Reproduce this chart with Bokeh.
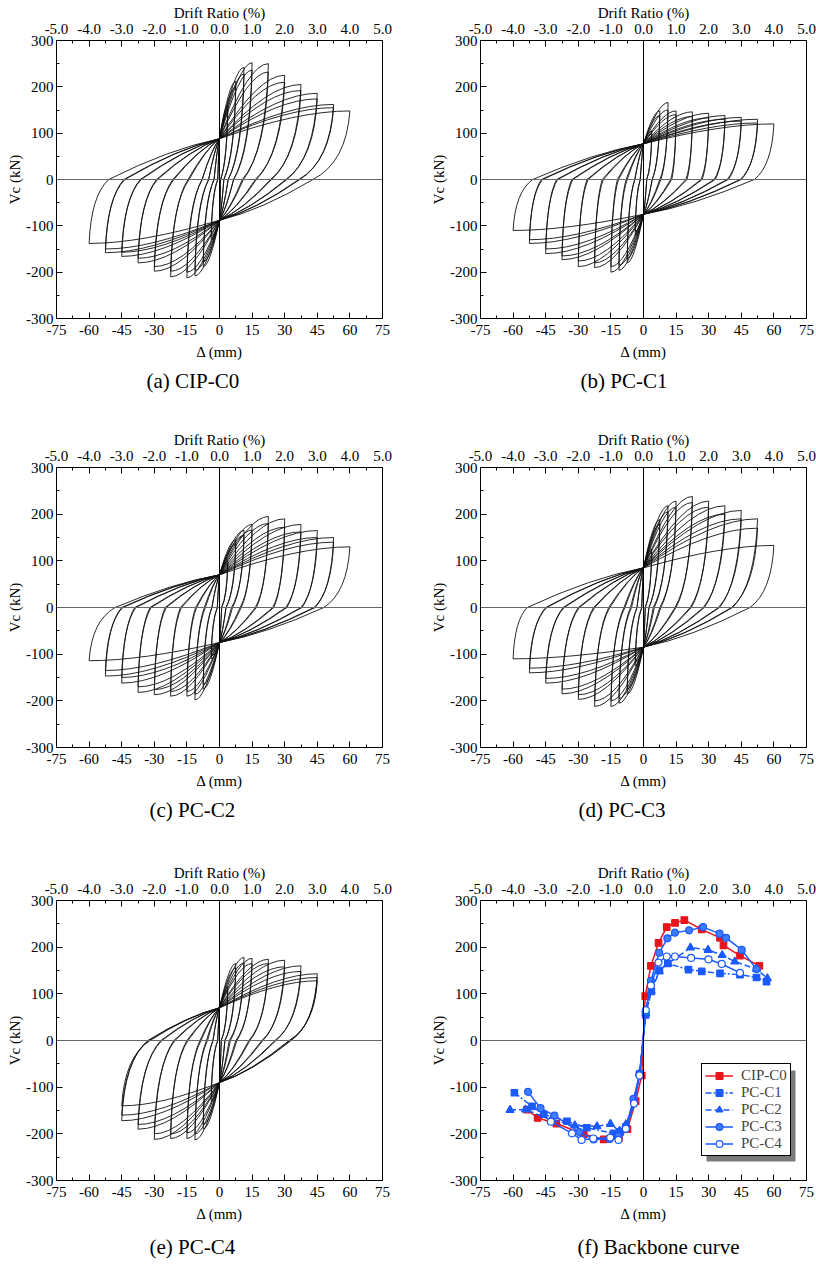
from bokeh.plotting import figure
from bokeh.models import (Range1d, LinearAxis, FixedTicker, NumeralTickFormatter, Span, Title,
                          ColumnDataSource, Legend, LegendItem, BoxAnnotation)
from bokeh.layouts import column, row
from bokeh.embed import file_html
from bokeh.resources import INLINE

FONT = "Liberation Serif"

# ---------------- ticks ----------------
X_TICKS = [-75, -60, -45, -30, -15, 0, 15, 30, 45, 60, 75]
X_MINOR = [-67.5, -52.5, -37.5, -22.5, -7.5, 7.5, 22.5, 37.5, 52.5, 67.5]
Y_TICKS = [-300, -200, -100, 0, 100, 200, 300]
Y_MINOR = [-250, -150, -50, 50, 150, 250]
DRIFT_TICKS = [-5, -4, -3, -2, -1, 0, 1, 2, 3, 4, 5]
DRIFT_MINOR = [-4.5, -3.5, -2.5, -1.5, -0.5, 0.5, 1.5, 2.5, 3.5, 4.5]

# ---------------- hysteresis cycles ----------------
# per cycle: positive peak (DP, FP), zero-force crossing on unloading (ZP),
# negative peak (DN, FN), zero-force crossing (ZN); PIN = force at zero displacement (pinch)
LEV_DP = [3.8, 3.8, 7.5, 7.5, 11.3, 11.3, 15, 15, 22.5, 22.5, 30, 30, 37.5, 37.5, 45, 45, 52.5, 52.5, 60]
LEV_DN = [-3.8, -3.8, -7.5, -7.5, -11.3, -11.3, -15, -15, -22.5, -22.5, -30, -30, -37.5, -37.5, -45, -45, -52.5, -52.5, -60]

A_FP = [160, 150, 212, 200, 242, 228, 252, 236, 250, 232, 225, 210, 205, 192, 186, 174, 162, 155, 148]
A_ZP = [0.5, 0.5, 2, 2, 4, 4, 6.5, 6.5, 11, 10.5, 17, 16.5, 24, 23.5, 31, 30.5, 37, 36.5, 43]
A_FN = [-130, -122, -188, -178, -208, -196, -212, -200, -210, -198, -198, -188, -180, -170, -166, -157, -158, -150, -138]
A_ZN = [-0.8, -0.8, -2.5, -2.5, -5, -5, -8, -8, -14.5, -14, -21.5, -21, -29, -28.5, -36.5, -36, -44, -43.5, -51]
A_PIN = [88, -88]

B_FP = [105, 98, 148, 138, 166, 150, 148, 140, 146, 136, 143, 133, 138, 130, 134, 126, 130, 122, 120]
B_ZP = [1.5, 1.5, 4, 4, 8, 7.5, 13, 12.5, 20, 19.5, 27, 26.5, 33, 32.5, 39, 38.5, 45, 44.5, 51]
B_FN = [-120, -112, -180, -170, -196, -185, -200, -188, -190, -180, -188, -176, -173, -165, -160, -150, -138, -130, -110]
B_ZN = [-1.5, -1.5, -4, -4, -8, -7.5, -12, -11.5, -19, -18.5, -26, -25.5, -33, -32.5, -40, -39.5, -47, -46.5, -51]
B_PIN = [77, -75]

C_FP = [100, 94, 145, 136, 165, 155, 178, 166, 195, 180, 190, 172, 178, 162, 165, 150, 150, 140, 130]
C_ZP = [1, 1, 3, 3, 6, 5.5, 10, 9.5, 17, 16.5, 25, 24.5, 31, 30.5, 38, 37.5, 44, 43.5, 48]
C_FN = [-110, -104, -175, -165, -198, -186, -190, -180, -190, -180, -187, -176, -182, -170, -162, -150, -147, -135, -114]
C_ZN = [-1, -1, -3.5, -3.5, -7, -6.5, -11, -10.5, -18, -17.5, -25, -24.5, -32, -31.5, -39, -38.5, -45, -44.5, -48]
C_PIN = [70, -75]

D_FP = [125, 118, 188, 178, 218, 205, 228, 215, 238, 225, 228, 215, 218, 200, 208, 190, 190, 170, 133]
D_ZP = [0.8, 0.8, 2.5, 2.5, 5, 4.5, 8, 7.5, 15, 14.5, 22, 21.5, 28, 27.5, 35, 34.5, 41, 40.5, 49]
D_FN = [-125, -118, -185, -175, -205, -195, -212, -200, -212, -200, -197, -187, -185, -175, -162, -152, -140, -130, -110]
D_ZN = [-0.8, -0.8, -3, -3, -6, -5.5, -9, -8.5, -16, -15.5, -23, -22.5, -30, -29.5, -37, -36.5, -45, -44.5, -53.5]
D_PIN = [85, -85]

E_DP = [3.8, 3.8, 7.5, 7.5, 11.3, 11.3, 15, 15, 22.5, 22.5, 30, 30, 37.5, 37.5, 45, 45, 45]
E_DN = [-3.8, -3.8, -7.5, -7.5, -11.3, -11.3, -15, -15, -22.5, -22.5, -30, -30, -37.5, -37.5, -45, -45, -45]
E_FP = [115, 108, 165, 155, 178, 166, 176, 165, 174, 165, 172, 158, 160, 148, 143, 135, 128]
E_ZP = [0.8, 0.8, 2.5, 2.5, 5, 4.5, 8, 7.5, 14, 13.5, 20, 19.5, 26, 25.5, 33, 32.5, 32]
E_FN = [-130, -122, -190, -180, -213, -200, -210, -198, -210, -200, -212, -200, -190, -180, -172, -160, -140]
E_ZN = [-0.8, -0.8, -3, -3, -6, -5.5, -9, -8.5, -15, -14.5, -21, -20.5, -27, -26.5, -33, -32.5, -32]
E_PIN = [70, -90]

# ---------------- backbone curves ----------------
CIP_C0_X = [-53.6, -48.7, -40.1, -27.5, -18.3, -11.3, -7.4, -3.6, -0.8, 0.8, 3.4, 6.9, 10.7, 14.5, 18.8, 26.8, 35.2, 36.8, 44.4, 53.3]
CIP_C0_Y = [-148, -166, -178, -201, -212, -209, -190, -130, -75, 95, 160, 209, 243, 252, 258, 238, 220, 204, 182, 160]
PC_C1_X = [-59.4, -51.3, -45.9, -35.2, -26.1, -13.8, -10.7, -8.1, -4.3, -1.8, 1.0, 3.6, 7.3, 11.2, 20.7, 26.8, 35.2, 44.4, 52.0, 56.6]
PC_C1_Y = [-112, -141, -158, -173, -187, -199, -196, -185, -130, -72, 55, 105, 150, 165, 152, 148, 144, 141, 135, 126]
PC_C2_X = [-61.4, -54.3, -42.5, -31.6, -21.4, -15.2, -11.0, -8.1, -4.3, -1.8, 1.1, 3.5, 7.3, 11.3, 21.6, 29.7, 36.2, 42.0, 52.0, 57.0]
PC_C2_Y = [-149, -148, -170, -182, -184, -179, -194, -180, -128, -70, 58, 106, 148, 165, 199, 194, 183, 169, 153, 133]
PC_C3_X = [-53.1, -47.4, -41.0, -29.5, -22.9, -15.6, -11.5, -8.1, -4.6, -1.8, 1.0, 3.4, 7.2, 11.0, 14.5, 21.0, 27.4, 35.0, 38.0, 45.2, 52.0]
PC_C3_Y = [-110, -145, -161, -196, -212, -211, -205, -188, -125, -72, 61, 128, 188, 219, 231, 236, 243, 229, 220, 194, 153]
PC_C4_X = [-42.6, -32.9, -28.5, -23.1, -15.3, -11.5, -8.1, -4.3, -1.8, 1.1, 3.4, 6.9, 10.7, 14.5, 21.9, 29.9, 36.0, 44.4]
PC_C4_Y = [-174, -199, -213, -210, -208, -213, -189, -135, -75, 65, 118, 167, 180, 180, 177, 174, 164, 145]

RED = "#e8141b"
BLUE = "#1a5aff"

FRAME_W = 326
BORDER_L = 56
RIGHT_OF_LEFT = 42
RIGHT_OF_RIGHT = 10
TOP = 40


def make_fig(frame_h, right, bottom, caption, cap_offset, cap_standoff):
    p = figure(frame_width=FRAME_W, frame_height=frame_h,
               x_range=Range1d(-75, 75), y_range=Range1d(-300, 300),
               output_backend="svg", toolbar_location=None,
               min_border_left=BORDER_L, min_border_right=right, min_border_top=TOP, min_border_bottom=bottom,
               background_fill_color="white", border_fill_color="white")
    p.extra_x_ranges = {"drift": Range1d(-5, 5)}
    p.grid.visible = False
    p.outline_line_color = "black"
    p.outline_line_alpha = 1.0
    p.outline_line_width = 1

    def style(ax, standoff, label, label_standoff):
        ax.major_label_text_font = FONT
        ax.major_label_text_font_size = "15px"
        ax.major_label_text_color = "black"
        ax.major_label_standoff = standoff
        ax.axis_line_color = "black"
        ax.major_tick_line_color = "black"
        ax.minor_tick_line_color = "black"
        ax.major_tick_in = 6
        ax.major_tick_out = 0
        ax.minor_tick_in = 3
        ax.minor_tick_out = 0
        ax.axis_label = label
        ax.axis_label_text_font = FONT
        ax.axis_label_text_font_size = "15px"
        ax.axis_label_text_font_style = "normal"
        ax.axis_label_text_color = "black"
        ax.axis_label_standoff = label_standoff

    xb = p.below[0]
    xb.ticker = FixedTicker(ticks=X_TICKS, minor_ticks=X_MINOR)
    xb.major_label_overrides = {v: str(v) for v in X_TICKS}
    style(xb, 6, "\u0394 (mm)", 6)
    yl = p.left[0]
    yl.ticker = FixedTicker(ticks=Y_TICKS, minor_ticks=Y_MINOR)
    yl.major_label_overrides = {v: str(v) for v in Y_TICKS}
    style(yl, 3, "Vc (kN)", 0)
    top_ax = LinearAxis(x_range_name="drift", ticker=FixedTicker(ticks=DRIFT_TICKS, minor_ticks=DRIFT_MINOR),
                        formatter=NumeralTickFormatter(format="0.0"))
    style(top_ax, 7, "Drift Ratio (%)", 0)
    p.add_layout(top_ax, "above")

    p.add_layout(Title(text=caption, align="left", offset=cap_offset, text_font=FONT,
                       text_font_size="21px", text_font_style="normal", text_color="black",
                       standoff=cap_standoff), "below")

    p.add_layout(Span(location=0, dimension="width", line_color="#666666", line_width=1))
    p.add_layout(Span(location=0, dimension="height", line_color="black", line_width=1))
    return p


def add_loops(p, dp, fp, zp, dn, fn, zn, pin):
    pp, pn = pin
    d = dict(x0=[], y0=[], x1=[], y1=[], cx=[], cy=[])

    def seg(a, b, c):
        d["x0"].append(a[0]); d["y0"].append(a[1])
        d["x1"].append(b[0]); d["y1"].append(b[1])
        d["cx"].append(c[0]); d["cy"].append(c[1])

    for i in range(len(dp)):
        seg((0, pp), (dp[i], fp[i]), (0.6 * dp[i], fp[i]))
        seg((dp[i], fp[i]), (zp[i], 0), (dp[i] - 0.1 * (dp[i] - zp[i]), 0.25 * fp[i]))
        seg((zp[i], 0), (0, pn), (0.45 * zp[i], 0.75 * pn))
        seg((0, pn), (dn[i], fn[i]), (0.6 * dn[i], fn[i]))
        seg((dn[i], fn[i]), (zn[i], 0), (dn[i] - 0.1 * (dn[i] - zn[i]), 0.25 * fn[i]))
        seg((zn[i], 0), (0, pp), (0.45 * zn[i], 0.75 * pp))
    src = ColumnDataSource(d)
    p.quadratic(x0="x0", y0="y0", x1="x1", y1="y1", cx="cx", cy="cy", source=src,
                line_color="#111111", line_width=0.9)


B1, B2, B3 = 109, 113, 84

fa = make_fig(278, RIGHT_OF_LEFT, B1, "(a) CIP-C0", 90, 9)
add_loops(fa, LEV_DP, A_FP, A_ZP, LEV_DN, A_FN, A_ZN, A_PIN)

fb = make_fig(278, RIGHT_OF_RIGHT, B1, "(b) PC-C1", 100, 9)
add_loops(fb, LEV_DP, B_FP, B_ZP, LEV_DN, B_FN, B_ZN, B_PIN)

fc = make_fig(280, RIGHT_OF_LEFT, B2, "(c) PC-C2", 93, 9)
add_loops(fc, LEV_DP, C_FP, C_ZP, LEV_DN, C_FN, C_ZN, C_PIN)

fd = make_fig(280, RIGHT_OF_RIGHT, B2, "(d) PC-C3", 98, 9)
add_loops(fd, LEV_DP, D_FP, D_ZP, LEV_DN, D_FN, D_ZN, D_PIN)

fe = make_fig(280, RIGHT_OF_LEFT, B3, "(e) PC-C4", 93, 16)
add_loops(fe, E_DP, E_FP, E_ZP, E_DN, E_FN, E_ZN, E_PIN)

ff = make_fig(280, RIGHT_OF_RIGHT, B3, "(f) Backbone curve", 97, 16)

series = [
    ("CIP-C0", CIP_C0_X, CIP_C0_Y, RED, "square", "solid", RED, 6.5),
    ("PC-C1", PC_C1_X, PC_C1_Y, BLUE, "square", "6 2 2 2", BLUE, 6.5),
    ("PC-C2", PC_C2_X, PC_C2_Y, BLUE, "triangle", "6 3", BLUE, 8),
    ("PC-C3", PC_C3_X, PC_C3_Y, BLUE, "circle", "solid", "#3f7cff", 7),
    ("PC-C4", PC_C4_X, PC_C4_Y, BLUE, "circle", "solid", "white", 7),
]
items = []
for name, xs, ys, col, mk, dash, fill, size in series:
    src = ColumnDataSource(dict(x=xs, y=ys))
    lr = ff.line("x", "y", source=src, line_color=col, line_width=1.5, line_dash=dash)
    sr = ff.scatter("x", "y", source=src, marker=mk, size=size, fill_color=fill, line_color=col, line_width=1.2)
    items.append(LegendItem(label=name, renderers=[lr, sr]))

LEG_X, LEG_Y, LEG_W, LEG_H = 221, 24, 89, 91
sxf = 150.0 / FRAME_W
syf = 600.0 / 280
ff.add_layout(BoxAnnotation(left=-75 + (LEG_X + 5) * sxf, right=-75 + (LEG_X + 5 + LEG_W) * sxf,
                            bottom=-300 + (LEG_Y - 5) * syf, top=-300 + (LEG_Y - 5 + LEG_H) * syf,
                            fill_color="#7a7a7a", fill_alpha=1.0, line_color=None))
legend = Legend(items=items, location=(LEG_X, LEG_Y), orientation="vertical",
                label_text_font=FONT, label_text_font_size="15px",
                glyph_width=28, glyph_height=17, label_height=17, label_standoff=8,
                padding=3, spacing=0, margin=0,
                border_line_color="black", border_line_width=1, border_line_alpha=1.0,
                background_fill_color="white", background_fill_alpha=1.0)
ff.add_layout(legend, "center")

layout = column(row(fa, fb), row(fc, fd), row(fe, ff))
open("out.html", "w").write(file_html(layout, INLINE))
